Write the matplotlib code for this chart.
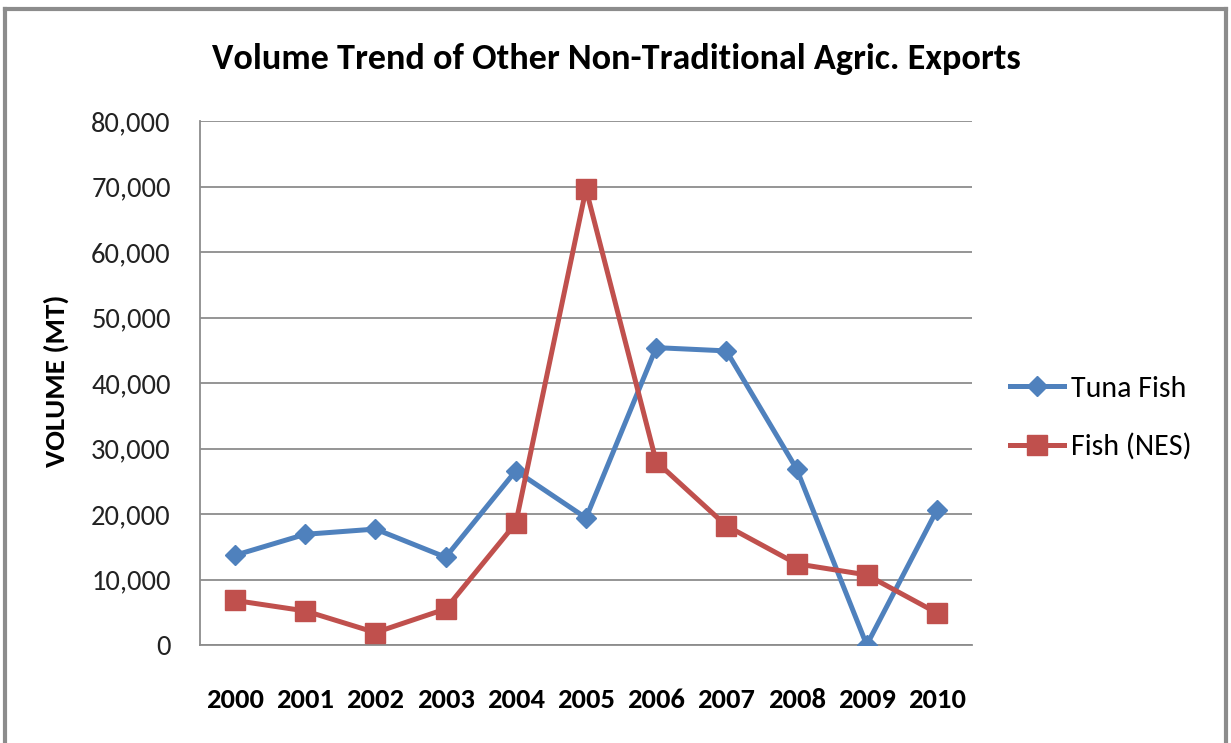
import matplotlib.pyplot as plt
from matplotlib.ticker import FuncFormatter
from matplotlib.lines import Line2D

years = ["2000", "2001", "2002", "2003", "2004", "2005",
         "2006", "2007", "2008", "2009", "2010"]
tuna_fish = [13700, 16900, 17700, 13400, 26600, 19400,
             45400, 44900, 26900, 0, 20600]
fish_nes = [6800, 5200, 1900, 5500, 18600, 69600,
            28000, 18200, 12400, 10700, 4900]

blue = "#4F81BD"
red = "#C0504D"
grid_grey = "#8C8C8C"
plt.rcParams["font.family"] = ["Carlito", "DejaVu Sans"]

W, H = 1231, 743
fig = plt.figure(figsize=(W / 100, H / 100), dpi=100)
ax = fig.add_axes([200 / W, 1 - 645 / H, 772 / W, 524 / H])

x = list(range(len(years)))
ax.plot(x, tuna_fish, color=blue, lw=3.6, marker="D", ms=10.5,
        label="Tuna Fish", zorder=3)
ax.plot(x, fish_nes, color=red, lw=3.6, marker="s", ms=14,
        label="Fish (NES)", zorder=3)

ax.set_xlim(-0.5, len(years) - 0.5)
ax.set_ylim(0, 80000)
ax.set_yticks(range(0, 80001, 10000))
ax.yaxis.set_major_formatter(FuncFormatter(lambda v, p: f"{int(v):,}"))
ax.set_xticks(x)
ax.set_xticklabels(years, fontsize=20.5, fontweight="bold")
ax.tick_params(axis="x", length=0, pad=31)
ax.tick_params(axis="y", labelsize=20.5, length=0, pad=21, labelcolor="#222222")

ax.grid(axis="y", color=grid_grey, lw=1.3)
ax.set_axisbelow(True)
for s in ["top", "right"]:
    ax.spines[s].set_visible(False)
for s in ["left", "bottom"]:
    ax.spines[s].set_color(grid_grey)
    ax.spines[s].set_linewidth(1.3)

fig.text(56 / W, 1 - 381 / H, "VOLUME (MT)", rotation=90, ha="center",
         va="center", fontsize=21, fontweight="bold")

fig.text(616 / W, 1 - 69 / H,
         "Volume Trend of Other Non-Traditional Agric. Exports",
         ha="center", va="baseline", fontsize=26, fontweight="bold")

fig.legend(loc="center left", bbox_to_anchor=(1010 / W, 1 - 418 / H),
           frameon=False, fontsize=21.5, borderpad=0, borderaxespad=0,
           handlelength=1.8, labelspacing=1.05, handletextpad=0.25)

# outer chart border (left, top, right; bottom is cut off in the picture)
border = dict(color="#8C8C8C", lw=3, transform=fig.transFigure)
fig.add_artist(Line2D([5 / W, 5 / W], [0, 1 - 9 / H], **border))
fig.add_artist(Line2D([5 / W, 1226 / W], [1 - 9 / H, 1 - 9 / H], **border))
fig.add_artist(Line2D([1226 / W, 1226 / W], [0, 1 - 9 / H], **border))

fig.savefig("out.png", dpi=100)
